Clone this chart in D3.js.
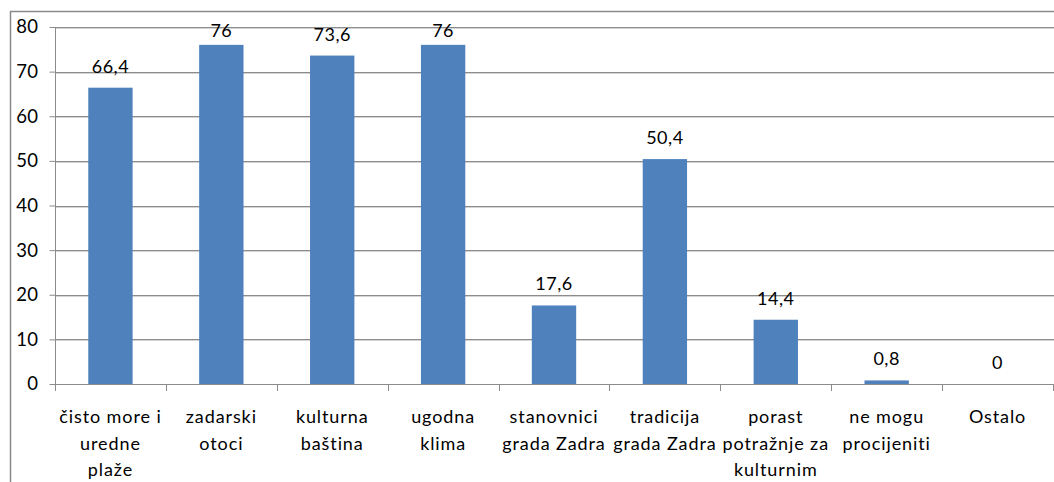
<!DOCTYPE html>
<html>
<head>
<meta charset="utf-8">
<script src="https://cdn.jsdelivr.net/npm/d3@7"></script>
<style>
  body { margin: 0; background: #fff; }
  text { font-family: Lato, "Open Sans", sans-serif; fill: #000; }
</style>
</head>
<body>
<div id="chart"></div>
<script>
var categories = [
	["čisto more i", "uredne", "plaže"],
	["zadarski", "otoci"],
	["kulturna", "baština"],
	["ugodna", "klima"],
	["stanovnici", "grada Zadra"],
	["tradicija", "grada Zadra"],
	["porast", "potražnje za", "kulturnim"],
	["ne mogu", "procijeniti"],
	["Ostalo"]
];
var values = [66.4, 76, 73.6, 76, 17.6, 50.4, 14.4, 0.8, 0];
var valueLabels = ["66,4", "76", "73,6", "76", "17,6", "50,4", "14,4", "0,8", "0"];
var yTicks = [0, 10, 20, 30, 40, 50, 60, 70, 80];

var W = 1054, H = 482;
var margin = { top: 27, left: 55, right: 1, bottom: 98 };
var width = W - margin.left - margin.right,
	height = H - margin.top - margin.bottom;

var svg = d3.select("#chart")
	.append("svg")
	.attr("width", W)
	.attr("height", H);

// outer chart border (runs off the right and bottom edge)
svg.append("rect")
	.attr("x", 10.5).attr("y", 11.5)
	.attr("width", W + 20).attr("height", H + 20)
	.attr("fill", "none")
	.attr("stroke", "#8a8a8a")
	.attr("stroke-width", 1.5);

var g = svg.append("g")
	.attr("transform", "translate(" + margin.left + "," + margin.top + ")");

var x = d3.scaleBand()
	.domain(d3.range(categories.length))
	.range([0, width])
	.paddingInner(0.6)
	.paddingOuter(0.3);

var xStep = d3.scaleLinear()
	.domain([0, categories.length])
	.range([0, width]);

var y = d3.scaleLinear()
	.domain([0, 80])
	.range([height, 0]);

//gridlines (with a faint shadow line under each)
g.selectAll(".grid-shadow")
	.data(yTicks.slice(1))
	.enter().append("line")
	.attr("x1", 0).attr("x2", width + 5)
	.attr("y1", function(d) { return Math.round(y(d)) + 1.5; })
	.attr("y2", function(d) { return Math.round(y(d)) + 1.5; })
	.attr("stroke", "#d4d4d4");

g.selectAll(".grid")
	.data(yTicks.slice(1))
	.enter().append("line")
	.attr("x1", 0).attr("x2", width + 5)
	.attr("y1", function(d) { return Math.round(y(d)) + 0.5; })
	.attr("y2", function(d) { return Math.round(y(d)) + 0.5; })
	.attr("stroke", "#8c8c8c");

//y axis
var yAxis = g.append("g")
	.attr("transform", "translate(0.5,0)")
	.call(d3.axisLeft(y).tickValues(yTicks).tickSize(6).tickPadding(11));
yAxis.select(".domain").attr("stroke", "#8c8c8c").attr("d", "M0," + Math.round(y(80)) + "V" + height);
yAxis.selectAll(".tick line").attr("stroke", "#8c8c8c");
yAxis.selectAll("text")
	.style("font-size", "18.5px")
	.style("letter-spacing", "0.4px")
	.attr("fill", "#000");

//bars
g.selectAll(".bar")
	.data(values)
	.enter().append("rect")
	.attr("class", "bar")
	.attr("x", function(d, i) { return x(i); })
	.attr("width", x.bandwidth())
	.attr("y", function(d) { return y(d); })
	.attr("height", function(d) { return height - y(d); })
	.attr("fill", "#4f81bd");

//x axis line and ticks
g.append("line")
	.attr("x1", 0).attr("x2", width + 5)
	.attr("y1", height + 0.5).attr("y2", height + 0.5)
	.attr("stroke", "#8c8c8c");

g.selectAll(".xtick")
	.data(d3.range(categories.length + 1))
	.enter().append("line")
	.attr("x1", function(d) { return Math.round(xStep(d)) + 0.5; })
	.attr("x2", function(d) { return Math.round(xStep(d)) + 0.5; })
	.attr("y1", height).attr("y2", height + 7)
	.attr("stroke", "#8c8c8c");

//data labels
g.selectAll(".vlabel")
	.data(values)
	.enter().append("text")
	.attr("x", function(d, i) { return x(i) + x.bandwidth() / 2; })
	.attr("y", function(d) { return Math.max(y(d) - 15, 10); })
	.attr("text-anchor", "middle")
	.style("font-size", "18px")
	.style("letter-spacing", "0.5px")
	.text(function(d, i) { return valueLabels[i]; });

//category labels
var cat = g.selectAll(".cat")
	.data(categories)
	.enter().append("text")
	.attr("text-anchor", "middle")
	.style("font-size", "18px")
	.style("letter-spacing", "0.9px");

cat.selectAll("tspan")
	.data(function(d, i) { return d.map(function(s) { return { s: s, i: i }; }); })
	.enter().append("tspan")
	.attr("x", function(d) { return x(d.i) + x.bandwidth() / 2; })
	.attr("y", function(d, j) { return height + 39 + j * 26.5; })
	.text(function(d) { return d.s; });
</script>
</body>
</html>
